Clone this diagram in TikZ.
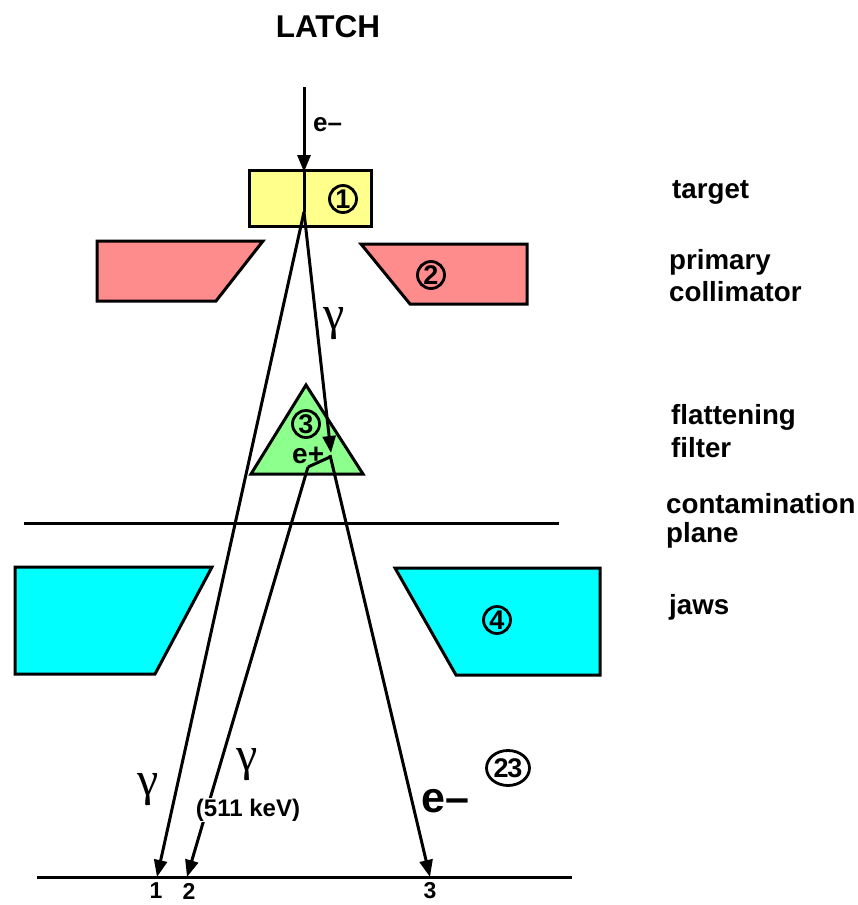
\documentclass[tikz,border=0pt]{standalone}
\usepackage{fontspec}
\setmainfont{Liberation Sans}
\newfontfamily\greekfont{Liberation Serif}
\usepackage{tikz}
\usetikzlibrary{arrows.meta,shapes.geometric}
\tikzset{
    part/.style={draw=black, line width=3pt, line join=miter},
    ray/.style={line width=3pt, -{Triangle[length=17pt,width=13pt]}},
    bareray/.style={line width=3pt},
    rule/.style={line width=3pt},
    lbl/.style={font=\bfseries\fontsize{27.7}{30}\selectfont, inner sep=0pt, anchor=west},
    num/.style={font=\bfseries\fontsize{23}{25}\selectfont, inner sep=0pt},
    mark circle/.style={draw=black, circle, line width=2.8pt, minimum size=27pt, inner sep=0pt, font=\bfseries\fontsize{27}{28}\selectfont},
    gam/.style={font=\greekfont\fontsize{48}{50}\selectfont, inner sep=0pt}
}
\definecolor{targetcol}{RGB}{255,255,140}
\definecolor{primcol}{RGB}{255,140,140}
\definecolor{filtcol}{RGB}{140,255,140}
\definecolor{jawcol}{RGB}{0,255,255}
\begin{document}
\begin{tikzpicture}[x=1pt,y=-1pt]
        \useasboundingbox (0,0) rectangle (858,905);
        \coordinate (Src) at (304,87);
        \coordinate (Hit) at (304,172);
        \coordinate (Conv) at (304,212);
        \coordinate (Pair) at (331,453);
        \coordinate (Ep) at (330,457);
        \coordinate (Ann) at (308,467);
        \coordinate (Start) at (330,455);
        \coordinate (D1) at (157,877);
        \coordinate (D2) at (187,877);
        \coordinate (D3) at (430,877);

        % Parts.
        \filldraw[part, fill=targetcol] (249,170) rectangle (371,226);
        \filldraw[part, fill=primcol] (97,241) -- (263,241) -- (216,301) -- (97,301) -- cycle;
        \filldraw[part, fill=primcol] (361,244) -- (527,244) -- (527,304) -- (410,304) -- cycle;
        \filldraw[part, fill=filtcol] (306,385) -- (363,474) -- (251,474) -- cycle;
        \filldraw[part, fill=jawcol] (15,567) -- (212,567) -- (155,674) -- (15,674) -- cycle;
        \filldraw[part, fill=jawcol] (395,568) -- (600,568) -- (600,675) -- (456,675) -- cycle;

        % Planes.
        \coordinate (PlaneL) at (24,523);
        \coordinate (PlaneR) at (559,523);
        \coordinate (BaseL) at (37,877);
        \coordinate (BaseR) at (572,877);
        \draw[rule] (PlaneL) -- (PlaneR);
        \draw[rule] (BaseL) -- (BaseR);

        % Rays.
        \draw[ray] (Src) -- (Hit);
        \draw[bareray] (Hit) -- (Conv);
        \draw[ray] (Conv) -- (D1);
        \draw[ray] (Conv) -- (Pair);
        \draw[ray] (Start) -- (D3);
        \draw[bareray, line join=round] (Ep) -- (Ann);
        \draw[ray] (Ann) -- (D2);

        % Circled numbers.
        \node[mark circle] (n1) at (343,199) {1};
        \node[mark circle] (n2) at (431,275) {2};
        \node[mark circle] (n3) at (306,424) {3};
        \node[mark circle] (n4) at (497,620) {4};
        \node[mark circle, ellipse, minimum width=43pt, minimum height=35pt, font=\bfseries\fontsize{27}{28}\selectfont\addfontfeature{LetterSpace=-4}] (n23) at (508,768) {23};

        % Labels.
        \node[font=\bfseries\fontsize{31.5}{34}\selectfont, inner sep=0pt] (title) at (328,27) {LATCH};
        \node[lbl] (target) at (672,192) {target};
        \node[lbl] (prim) at (669,262) {primary};
        \node[lbl] (coll) at (669,292) {collimator};
        \node[lbl] (flat) at (671,417) {flattening};
        \node[lbl] (filt) at (671,448) {filter};
        \node[lbl] (cont) at (666,504) {contamination};
        \node[lbl] (plane) at (666,535) {plane};
        \node[lbl] (jaws) at (669,607) {jaws};

        \node[lbl, font=\bfseries\fontsize{26}{28}\selectfont] (ein) at (313,125) {e\textendash};
        \node[lbl, font=\bfseries\fontsize{28}{30}\selectfont] (epos) at (292,455) {e+};
        \node[lbl, font=\bfseries\fontsize{43}{44}\selectfont] (eout) at (421,801) {e\textendash};
        \node[gam] (g1) at (334,324) {γ};
        \node[gam] (g2) at (148,790) {γ};
        \node[gam] (g3) at (247,765) {γ};
        \node[font=\bfseries\fontsize{24}{26}\selectfont, fill=white, inner sep=1pt] (kev) at (248,810) {(511 keV)};

        \node[num] (l1) at (156,891) {1};
        \node[num] (l2) at (189,891) {2};
        \node[num] (l3) at (430,891) {3};
\end{tikzpicture}
\end{document}
